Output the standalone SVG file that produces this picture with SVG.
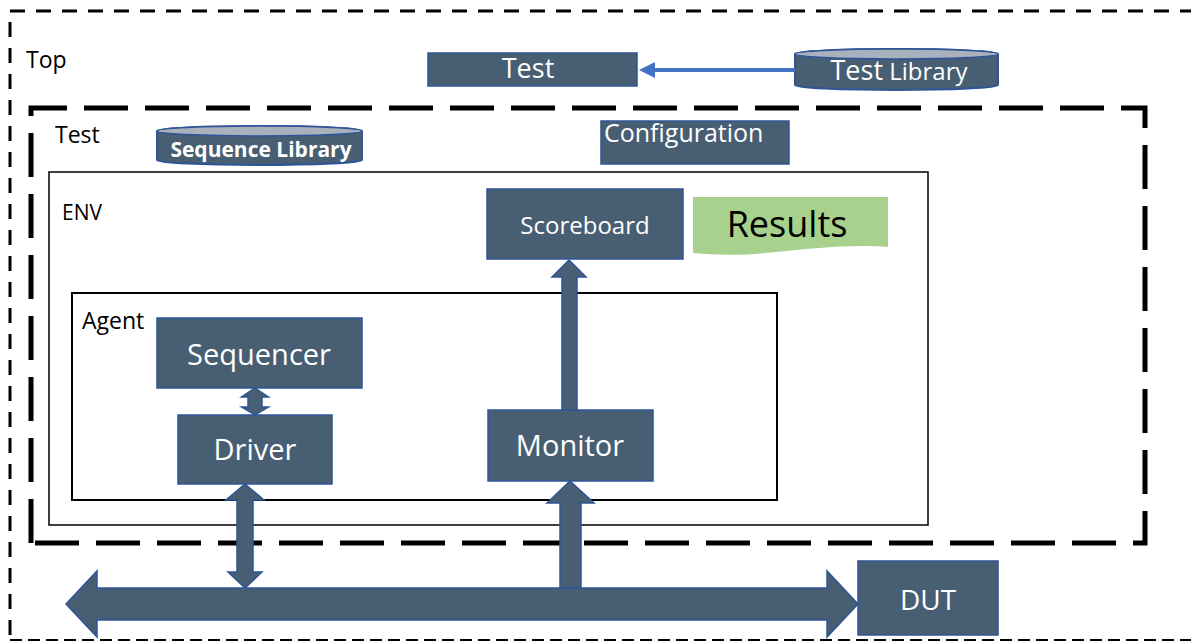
<svg xmlns="http://www.w3.org/2000/svg" width="1191" height="644" viewBox="0 0 1191 644">
<style>
text{font-family:"Open Sans","Liberation Sans",sans-serif;}
.box{fill:#475E73;stroke:#2F5597;stroke-width:1.5;}
.wt{fill:#ffffff;text-anchor:middle;}
.lbl{fill:#000000;}
.arr{fill:#475E73;stroke:#2F5597;stroke-width:1.5;stroke-linejoin:miter;}
.cyl{fill:#475E73;stroke:#2F5597;stroke-width:2;}
.cyltop{fill:#A9B2BC;stroke:#2F5597;stroke-width:1.5;}
</style>
<rect width="1191" height="644" fill="#ffffff"/>

<g id="top-frame">
<path d="M10,635 V11 H1191" fill="none" stroke="#000" stroke-width="3" stroke-dasharray="15 11"/>
<path d="M10,640 H1191" fill="none" stroke="#000" stroke-width="2" stroke-dasharray="12 6"/>
<text class="lbl" x="26" y="68" font-size="23">Top</text>
</g>

<g id="test-frame">
<path d="M31,543 V108 H1145 V543 H31" fill="none" stroke="#000" stroke-width="5" stroke-dasharray="44 17"/>
<text class="lbl" x="55" y="143" font-size="23">Test</text>
</g>

<g id="env">
<rect x="49" y="172" width="879" height="353" fill="none" stroke="#000" stroke-width="1.5"/>
<text class="lbl" x="62" y="220" font-size="21">ENV</text>
</g>

<g id="agent">
<rect x="72" y="293" width="705" height="207" fill="none" stroke="#000" stroke-width="2"/>
<text class="lbl" x="82" y="329" font-size="23">Agent</text>
</g>

<g id="test-box">
<rect class="box" x="428" y="53" width="209" height="33"/>
<text class="wt" x="528" y="78" font-size="27">Test</text>
</g>

<g id="test-library">
<path class="cyl" d="M795,54 V85 A101.5,5 0 0 0 998,85 V54 A101.5,5 0 0 0 795,54 Z"/>
<ellipse class="cyltop" cx="896.5" cy="54" rx="101.5" ry="5"/>
<text x="899" y="80" fill="#fff" text-anchor="middle"><tspan font-size="27">Test</tspan><tspan font-size="24"> Library</tspan></text>
</g>

<g id="sequence-library">
<path class="cyl" d="M157,131 V160 A102.5,5 0 0 0 362,160 V131 A102.5,5 0 0 0 157,131 Z"/>
<ellipse class="cyltop" cx="259.5" cy="131" rx="102.5" ry="5"/>
<text class="wt" x="261" y="157" font-size="21" font-weight="bold">Sequence Library</text>
</g>

<g id="configuration">
<rect class="box" x="601" y="121" width="188" height="43"/>
<text x="604" y="142" font-size="25" fill="#fff">Configuration</text>
</g>

<g id="scoreboard">
<rect class="box" x="487" y="189" width="196" height="70"/>
<text class="wt" x="585" y="234" font-size="24">Scoreboard</text>
</g>

<g id="results">
<path d="M693,197 H888 V247 C855,244 815,248 775,252 C740,256 715,255 693,253 Z" fill="#A9D18E"/>
<text x="787" y="237" font-size="36" fill="#000" text-anchor="middle">Results</text>
</g>

<g id="sequencer">
<rect class="box" x="157" y="318" width="205" height="70"/>
<text class="wt" x="259" y="365" font-size="29">Sequencer</text>
</g>

<g id="driver">
<rect class="box" x="178" y="415" width="154" height="69"/>
<text class="wt" x="255" y="460" font-size="29">Driver</text>
</g>

<g id="monitor">
<rect class="box" x="488" y="410" width="165" height="71"/>
<text class="wt" x="570" y="456" font-size="29">Monitor</text>
</g>

<g id="dut">
<rect class="box" x="858" y="561" width="140" height="74"/>
<text class="wt" x="928" y="610" font-size="28">DUT</text>
</g>

<g id="connectors">
<line x1="795" y1="70" x2="652" y2="70" stroke="#4472C4" stroke-width="4"/>
<polygon points="639,70 655,62 655,78" fill="#4472C4"/>
<polygon class="arr" points="255,388 268.5,397 262,397 262,407 268.5,407 255,415 241.5,407 248,407 248,397 241.5,397"/>
<polygon class="arr" points="569,260 586,277 577,277 577,410 562,410 562,277 552,277"/>
<polygon class="arr" points="245,484 264,500 253,500 253,572 262,572 245,588 228,572 237,572 237,500 226,500"/>
<polygon class="arr" points="570,481 594,503 581,503 581,588 560,588 560,503 547,503"/>
<polygon class="arr" points="66,604 97,571 97,588 827,588 827,571 858,604 827,637 827,620 97,620 97,637"/>
</g>
</svg>
